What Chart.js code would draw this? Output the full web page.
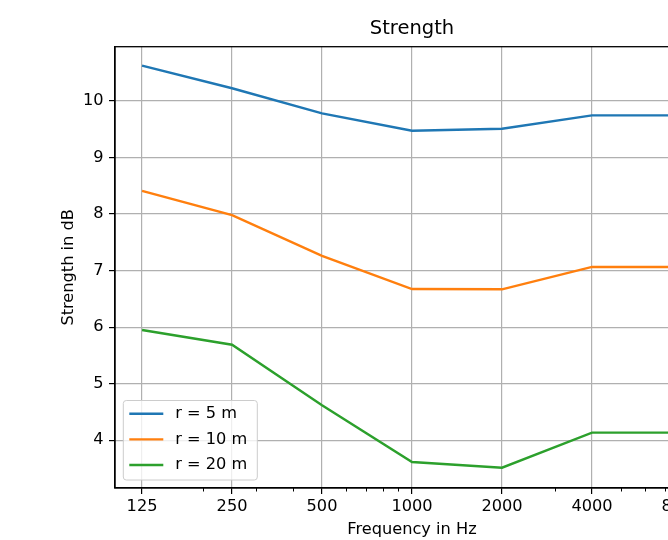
<!DOCTYPE html>
<html>
<head>
<meta charset="utf-8">
<script src="https://cdn.jsdelivr.net/npm/chart.js@4.4.1/dist/chart.umd.min.js"></script>
<style>
  html, body { margin: 0; padding: 0; background: #fff; overflow: hidden; }
  #wrap { width: 740px; height: 540px; }
</style>
</head>
<body>
<div id="wrap"><canvas id="strengthChart" width="740" height="540"></canvas></div>
<script>
// Werte
const frequencies = [125, 250, 500, 1000, 2000, 4000, 8000];
const strength5m = [10.625, 10.225, 9.78, 9.475, 9.51, 9.745, 9.745];
const strength10m = [8.41, 7.98, 7.26, 6.675, 6.67, 7.065, 7.065];
const strength20m = [5.95, 5.69, 4.62, 3.615, 3.515, 4.135, 4.135];
const seriesLabels = ['r = 5 m', 'r = 10 m', 'r = 20 m'];
const seriesColors = ['#1f77b4', '#ff7f0e', '#2ca02c'];

const xTickValues = [125, 250, 500, 1000, 2000, 4000, 8000];
const xMinorTickValues = [200, 300, 400, 600, 700, 800, 900, 3000, 5000, 6000, 7000, 9000];
const yTickValues = [4, 5, 6, 7, 8, 9, 10];

const FONT = 'DejaVu Sans';
const FS = 16.2;

const toPoints = vals => frequencies.map((f, i) => ({ x: f, y: vals[i] }));

// Rahmen, kleine Ticks und Legende im Plotbereich
const mplExtras = {
  id: 'mplExtras',
  afterDraw(chart) {
    const { ctx, chartArea: a } = chart;
    const xs = chart.scales.x;
    ctx.save();

    // kleine Ticks unten
    ctx.strokeStyle = '#000';
    ctx.lineWidth = 1;
    xMinorTickValues.forEach(v => {
      const px = Math.round(xs.getPixelForValue(v)) + 0.5;
      ctx.beginPath();
      ctx.moveTo(px, a.bottom);
      ctx.lineTo(px, a.bottom + 3.5);
      ctx.stroke();
    });

    // Rahmen
    ctx.lineWidth = 1.3;
    ctx.strokeStyle = '#000';
    ctx.strokeRect(a.left, a.top, a.right - a.left, a.bottom - a.top);

    // Legende
    const bx = a.left + 8.3, bw = 134, bh = 79.5;
    const by = a.bottom - 8 - bh;
    ctx.beginPath();
    ctx.roundRect(bx, by, bw, bh, 3);
    ctx.fillStyle = 'rgba(255,255,255,0.8)';
    ctx.fill();
    ctx.strokeStyle = '#cccccc';
    ctx.lineWidth = 1;
    ctx.stroke();

    ctx.font = `${FS}px "${FONT}"`;
    ctx.textBaseline = 'middle';
    ctx.textAlign = 'left';
    chart.data.datasets.forEach((ds, i) => {
      const ly = by + 13.3 + i * 25.6;
      ctx.strokeStyle = ds.borderColor;
      ctx.lineWidth = 2.4;
      ctx.beginPath();
      ctx.moveTo(bx + 6, ly);
      ctx.lineTo(bx + 40, ly);
      ctx.stroke();
      ctx.fillStyle = '#000';
      ctx.fillText(ds.label, bx + 52, ly);
    });

    ctx.restore();
  }
};

const ctx = document.getElementById('strengthChart').getContext('2d');
new Chart(ctx, {
  type: 'line',
  data: {
    datasets: [strength5m, strength10m, strength20m].map((vals, i) => ({
      label: seriesLabels[i],
      data: toPoints(vals),
      borderColor: seriesColors[i],
      backgroundColor: seriesColors[i],
      borderWidth: 2.4,
      pointRadius: 0,
      tension: 0,
      fill: false
    }))
  },
  options: {
    responsive: false,
    animation: false,
    devicePixelRatio: 1,
    color: '#000',
    layout: { padding: { left: 0, right: 31, top: 0, bottom: 0 } },
    plugins: {
      legend: { display: false },
      tooltip: { enabled: false },
      title: {
        display: true,
        text: 'Strength',
        fullSize: false,
        color: '#000',
        font: { family: FONT, size: 19.5, weight: 'normal' },
        padding: { top: 17.5, bottom: 5.8 }
      }
    },
    scales: {
      x: {
        type: 'logarithmic',
        min: 101.5,
        max: 9850,
        afterBuildTicks: s => { s.ticks = xTickValues.map(v => ({ value: v })); },
        afterFit: s => { s.height = 52; },
        ticks: {
          autoSkip: false,
          maxRotation: 0,
          color: '#000',
          padding: 3,
          font: { family: FONT, size: FS },
          callback: v => String(v)
        },
        grid: { color: '#b0b0b0', lineWidth: 1.2, tickColor: '#000', tickLength: 6 },
        border: { color: '#000', width: 1.3 },
        title: {
          display: true,
          text: 'Frequency in Hz',
          color: '#000',
          font: { family: FONT, size: FS },
          padding: { top: 0, bottom: 0.9 }
        }
      },
      y: {
        type: 'linear',
        min: 3.156,
        max: 10.96,
        afterBuildTicks: s => { s.ticks = yTickValues.map(v => ({ value: v })); },
        afterFit: s => { s.width = 115; },
        ticks: {
          color: '#000',
          padding: 5.5,
          font: { family: FONT, size: FS },
          callback: v => String(v)
        },
        grid: { color: '#b0b0b0', lineWidth: 1.2, tickColor: '#000', tickLength: 6 },
        border: { color: '#000', width: 1.3 },
        title: {
          display: true,
          text: 'Strength in dB',
          color: '#000',
          font: { family: FONT, size: FS },
          padding: { top: 58.7, bottom: 0 }
        }
      }
    }
  },
  plugins: [mplExtras]
});
</script>
</body>
</html>
